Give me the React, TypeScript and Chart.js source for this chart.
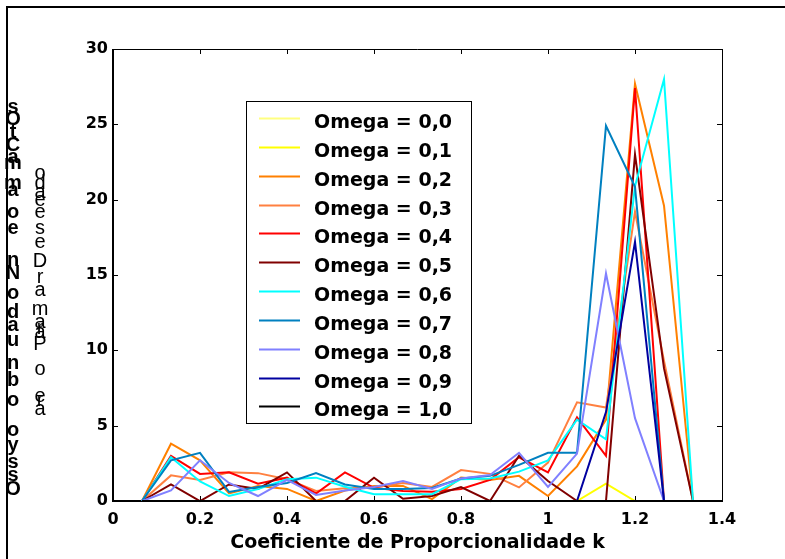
import React, { useEffect, useRef } from "react";
import { Chart, registerables } from "chart.js";

Chart.register(...registerables);

// Coeficiente de Proporcionalidade k (x positions of the samples)
const K_VALUES = [
  0.0667, 0.1333, 0.2, 0.2667, 0.3333, 0.4, 0.4667, 0.5333, 0.6, 0.6667, 0.7333,
  0.8, 0.8667, 0.9333, 1.0, 1.0667, 1.1333, 1.2, 1.2667, 1.3333, 1.4,
];

const SERIES_LABELS = [
  "Omega = 0,0",
  "Omega = 0,1",
  "Omega = 0,2",
  "Omega = 0,3",
  "Omega = 0,4",
  "Omega = 0,5",
  "Omega = 0,6",
  "Omega = 0,7",
  "Omega = 0,8",
  "Omega = 0,9",
  "Omega = 1,0",
];

const OMEGA_00 = [0, 0, 0, 0, 0, 0, 0, 0, 0, 0, 0, 0, 0, 0, 0, 0, 0, 0, 0, 0, 0];
const OMEGA_01 = [0, 0, 0, 0, 0, 0, 0, 0, 0, 0, 0, 0, 0, 0, 0, 0, 1.15, 0, 0, 0, 0];
const OMEGA_02 = [0, 3.8, 2.7, 0.5, 1.0, 0.8, 0, 0.7, 1.0, 1.0, 0.13, 1.55, 1.4, 1.67, 0.33, 2.3, 5.4, 27.7, 19.6, 0, 0];
const OMEGA_03 = [0, 1.7, 1.4, 1.9, 1.85, 1.45, 0.67, 0.85, 0.9, 1.2, 0.93, 2.05, 1.8, 0.9, 2.55, 6.55, 6.2, 19.2, 9.3, 0, 0];
const OMEGA_04 = [0, 3.0, 1.8, 1.9, 1.15, 1.55, 0.5, 1.9, 0.87, 0.67, 0.62, 0.8, 1.4, 2.9, 1.9, 5.55, 3.0, 27.4, 0, 0, 0];
const OMEGA_05 = [0, 1.1, 0, 1.1, 0.8, 1.9, 0, 0, 1.55, 0.15, 0.33, 0.93, 0, 3.0, 1.33, 0, 0, 23.0, 8.8, 0, 0];
const OMEGA_06 = [0, 2.9, 1.3, 0.33, 0.8, 1.45, 1.55, 0.95, 0.45, 0.45, 0.45, 1.45, 1.5, 1.95, 2.7, 5.4, 4.1, 20.9, 28.0, 0, 0];
const OMEGA_07 = [0, 2.7, 3.2, 0.6, 0.93, 1.2, 1.85, 1.1, 0.8, 0.8, 0.87, 1.5, 1.67, 2.4, 3.2, 3.2, 24.9, 20.85, 0, 0, 0];
const OMEGA_08 = [0, 0.7, 2.7, 1.2, 0.33, 1.4, 0.4, 0.7, 0.93, 1.33, 0.8, 1.5, 1.73, 3.2, 0.93, 3.15, 15.1, 5.5, 0, 0, 0];
const OMEGA_09 = [0, 0, 0, 0, 0, 0, 0, 0, 0, 0, 0, 0, 0, 0, 0, 0, 5.9, 17.2, 0, 0, 0];
const OMEGA_10 = [0, 0, 0, 0, 0, 0, 0, 0, 0, 0, 0, 0, 0, 0, 0, 0, 0, 0, 0, 0, 0];

const SERIES_VALUES = [
  OMEGA_00, OMEGA_01, OMEGA_02, OMEGA_03, OMEGA_04, OMEGA_05,
  OMEGA_06, OMEGA_07, OMEGA_08, OMEGA_09, OMEGA_10,
];

const SERIES_COLORS = [
  "#ffff80", "#ffff00", "#ff8000", "#ff8040", "#ff0000", "#800000",
  "#00ffff", "#0080c0", "#8080ff", "#0000a0", "#000000",
];

const X_TITLE = "Coeficiente de Proporcionalidade k";

// garbled vertical y-axis label, as it appears in the reference (two stacked columns)
const Y_LABEL_COL1 = ["s", "O", "t", "C", "a", "m", "m", "a", "o", "e", "n", "N", "o", "d", "a", "u", "n", "b", "o", "o", "y", "s", "s", "O"];
const Y_LABEL_COL2 = ["o", "d", "a", "e", "e", "s", "e", "D", "r", "a", "m", "a", "r", "a", "P", "o", "e", "r", "a"];

// layout of the stacked label characters (pixel rows)
const COL1_ROWS = [107, 119, 132, 145, 157, 163, 183, 190, 212, 228, 260, 273, 293, 312, 325, 340, 363, 380, 400, 430, 445, 462, 475, 489];
const COL2_ROWS = [173, 183, 192, 200, 212, 228, 242, 261, 277, 290, 309, 322, 328, 332, 344, 369, 396, 400, 409];

const decorPlugin = {
  id: "decor",
  beforeDatasetsDraw(chart: any) {
    const { ctx, chartArea: a, scales } = chart;
    ctx.save();
    ctx.strokeStyle = "#000";
    // box
    ctx.lineWidth = 1;
    ctx.beginPath();
    ctx.moveTo(a.left, a.top + 0.5);
    ctx.lineTo(a.right + 0.5, a.top + 0.5);
    ctx.lineTo(a.right + 0.5, a.bottom);
    ctx.stroke();
    ctx.lineWidth = 2;
    ctx.beginPath();
    ctx.moveTo(a.left, a.top);
    ctx.lineTo(a.left, a.bottom);
    ctx.lineTo(a.right + 1, a.bottom);
    ctx.stroke();
    // inward tick marks
    ctx.lineWidth = 1;
    const tl = 5;
    ctx.beginPath();
    for (const t of scales.x.ticks) {
      const px = Math.round(scales.x.getPixelForValue(t.value)) + 0.5;
      ctx.moveTo(px, a.bottom);
      ctx.lineTo(px, a.bottom - tl);
      ctx.moveTo(px, a.top);
      ctx.lineTo(px, a.top + tl);
    }
    for (const t of scales.y.ticks) {
      const py = Math.round(scales.y.getPixelForValue(t.value)) + 0.5;
      ctx.moveTo(a.left, py);
      ctx.lineTo(a.left + tl, py);
      ctx.moveTo(a.right, py);
      ctx.lineTo(a.right - tl, py);
    }
    ctx.stroke();
    ctx.restore();
  },
  afterDatasetsDraw(chart: any) {
    const { ctx } = chart;
    ctx.save();
    // legend box
    const bx = 246, by = 101, bw = 225, bh = 322;
    ctx.fillStyle = "#fff";
    ctx.fillRect(bx, by, bw, bh);
    ctx.strokeStyle = "#000";
    ctx.lineWidth = 1;
    ctx.strokeRect(bx + 0.5, by + 0.5, bw, bh);
    const step = 28.84;
    ctx.font = "bold 19px 'DejaVu Sans', sans-serif";
    ctx.textAlign = "left";
    ctx.textBaseline = "alphabetic";
    SERIES_LABELS.forEach((lab, i) => {
      const y = Math.round(118 + i * step) + 0.5;
      ctx.strokeStyle = SERIES_COLORS[i];
      ctx.lineWidth = 2;
      ctx.beginPath();
      ctx.moveTo(259, y);
      ctx.lineTo(300, y);
      ctx.stroke();
      ctx.fillStyle = "#000";
      ctx.fillText(lab, 314, y + 9);
    });
    ctx.restore();
  },
  afterDraw(chart: any) {
    const { ctx, chartArea: a } = chart;
    ctx.save();
    // outer frame
    ctx.fillStyle = "#000";
    ctx.fillRect(6, 6, 779, 2);
    ctx.fillRect(6, 6, 2, 553);
    // x title
    ctx.font = "bold 19px 'DejaVu Sans', sans-serif";
    ctx.textAlign = "center";
    ctx.textBaseline = "middle";
    ctx.fillText(X_TITLE, (a.left + a.right) / 2, 543);
    // y label columns
    ctx.font = "bold 20px 'Liberation Sans', Arial, sans-serif";
    Y_LABEL_COL1.forEach((c, i) => ctx.fillText(c, 13, COL1_ROWS[i]));
    ctx.font = "20px 'Liberation Sans', Arial, sans-serif";
    Y_LABEL_COL2.forEach((c, i) => ctx.fillText(c, 40, COL2_ROWS[i]));
    ctx.restore();
  },
};

export default function App() {
  const ref = useRef<HTMLCanvasElement | null>(null);
  useEffect(() => {
    if (!ref.current) return;
    const datasets = SERIES_VALUES.map((vals, i) => ({
      label: SERIES_LABELS[i],
      data: K_VALUES.map((k, j) => ({ x: k, y: vals[j] })),
      borderColor: SERIES_COLORS[i],
      backgroundColor: SERIES_COLORS[i],
      borderWidth: 2,
      pointRadius: 0,
      tension: 0,
      fill: false,
      clip: false as any,
      order: SERIES_VALUES.length - i,
    }));
    const chart = new Chart(ref.current, {
      type: "line",
      data: { datasets },
      options: {
        animation: false,
        responsive: false,
        events: [],
        layout: { padding: { top: 49, right: 63, bottom: 0, left: 0 } },
        plugins: { legend: { display: false }, tooltip: { enabled: false }, title: { display: false } },
        scales: {
          x: {
            type: "linear",
            min: 0,
            max: 1.4,
            grid: { display: false, drawTicks: false },
            border: { display: false },
            afterFit: (s: any) => { s.height = 58; },
            ticks: {
              stepSize: 0.2,
              autoSkip: false,
              maxRotation: 0,
              padding: 9,
              color: "#000",
              font: { family: "'DejaVu Sans', sans-serif", size: 16, weight: "bold" },
              callback: (v: any) => String(Number(Number(v).toFixed(1))),
            },
          },
          y: {
            type: "linear",
            min: 0,
            max: 30,
            grid: { display: false, drawTicks: false },
            border: { display: false },
            afterFit: (s: any) => { s.width = 113; },
            ticks: {
              stepSize: 5,
              padding: 5,
              color: "#000",
              font: { family: "'DejaVu Sans', sans-serif", size: 16, weight: "bold" },
            },
          },
        },
      },
      plugins: [decorPlugin],
    });
    return () => chart.destroy();
  }, []);
  return (
    <div style={{ position: "fixed", left: 0, top: 0, width: 785, height: 559, background: "#fff" }}>
      <canvas ref={ref} width={785} height={559} style={{ display: "block", width: 785, height: 559 }} />
    </div>
  );
}
